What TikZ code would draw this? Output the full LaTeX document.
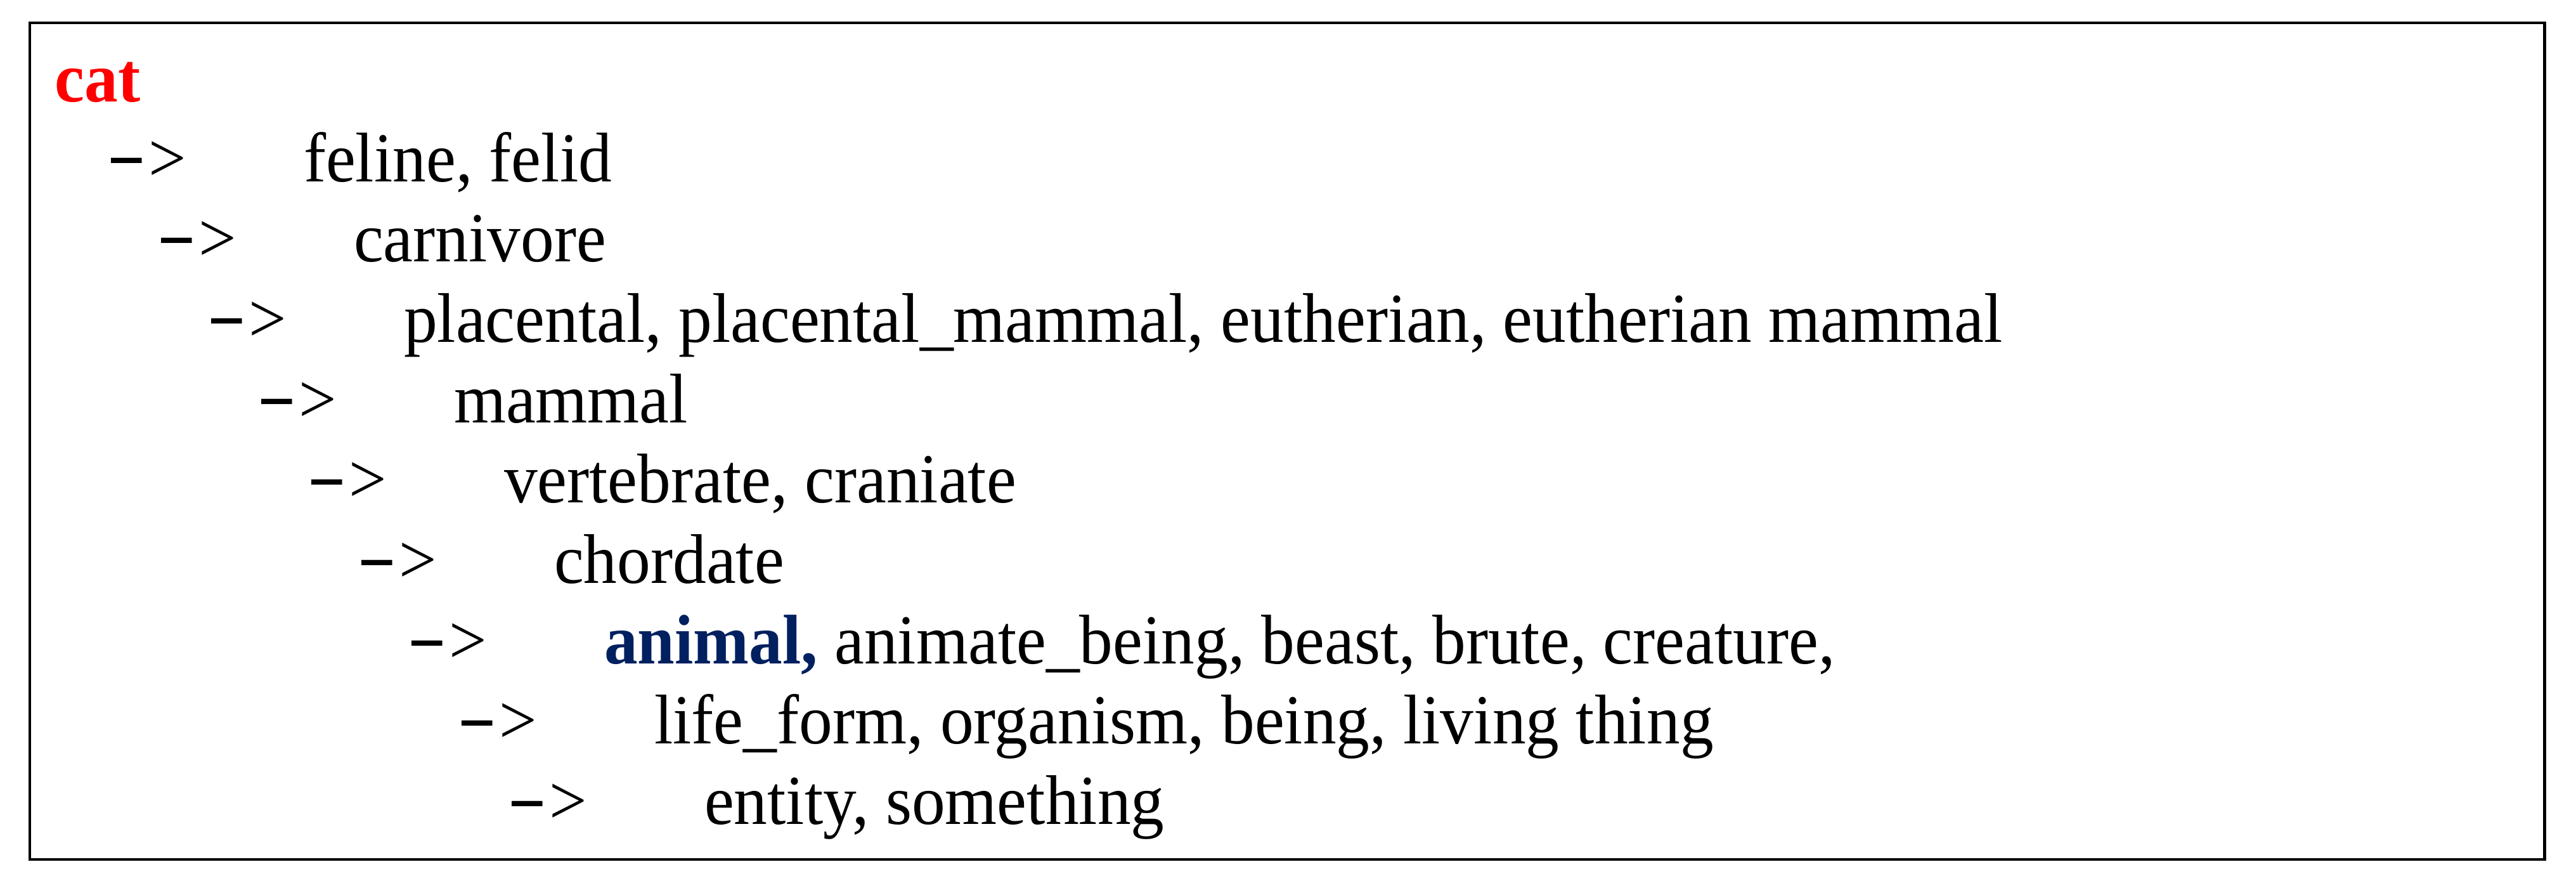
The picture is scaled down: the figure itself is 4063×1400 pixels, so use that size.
\documentclass[tikz,border=0pt]{standalone}
\usepackage{graphicx}
\usepackage{fontspec}
\setmainfont{Liberation Serif}[FakeStretch=0.952]
\definecolor{catred}{RGB}{255,0,0}
\definecolor{animalblue}{RGB}{0,32,96}
\newcommand\arrowtext{\raisebox{0.06cm}{\scalebox{1.774}[1]{-}}\kern0.04cm>}
\begin{document}
\begin{tikzpicture}[x=0.01cm,y=-0.01cm,
  txt/.style={anchor=base west,inner sep=0pt,outer sep=0pt,font=\fontsize{31.5}{38}\selectfont},
  arr/.style={txt},
  frame/.style={draw=black,line width=1.4pt}]
\useasboundingbox (0,0) rectangle (4063,1400);
\draw[frame] (47,36) rectangle (4013,1355);
\node[txt,text=catred,font=\fontsize{31.5}{38}\selectfont\bfseries] (cat) at (87,161) {cat};
\node[arr] (a1) at (168,286) {\arrowtext};
\node[txt] (t1) at (479,286) {feline, felid};
\node[arr] (a2) at (247,412) {\arrowtext};
\node[txt] (t2) at (558,412) {carnivore};
\node[arr] (a3) at (326,539) {\arrowtext};
\node[txt] (t3) at (637,539) {placental, placental\_mammal, eutherian, eutherian mammal};
\node[arr] (a4) at (405,666) {\arrowtext};
\node[txt] (t4) at (716,666) {mammal};
\node[arr] (a5) at (484,792) {\arrowtext};
\node[txt] (t5) at (795,792) {vertebrate, craniate};
\node[arr] (a6) at (563,919) {\arrowtext};
\node[txt] (t6) at (874,919) {chordate};
\node[arr] (a7) at (642,1046) {\arrowtext};
\node[txt] (t7) at (953,1046) {{\color{animalblue}\bfseries animal,} animate\_being, beast, brute, creature,};
\node[arr] (a8) at (721,1172) {\arrowtext};
\node[txt] (t8) at (1032,1172) {life\_form, organism, being, living thing};
\node[arr] (a9) at (800,1299) {\arrowtext};
\node[txt] (t9) at (1111,1299) {entity, something};
\end{tikzpicture}
\end{document}
